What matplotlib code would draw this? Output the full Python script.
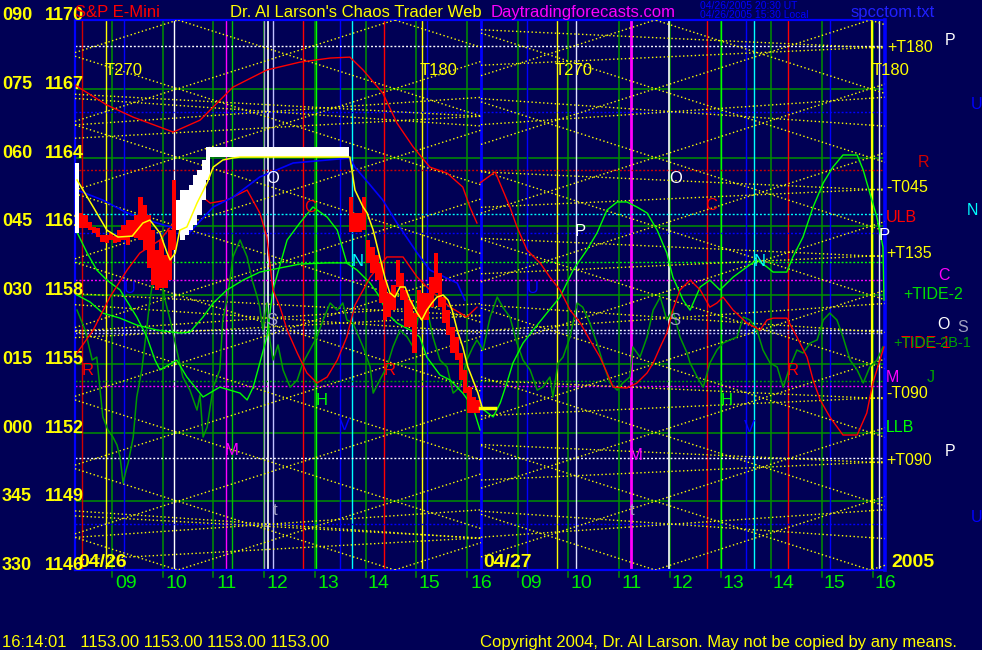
import numpy as np
import matplotlib
matplotlib.use("Agg")
import matplotlib.pyplot as plt

plt.rcParams['font.family'] = ['Liberation Sans', 'DejaVu Sans']

NAVY = '#000055'
YEL = '#ffff00'

# x axis is session hours: 0 = left edge of 04/26, 8 = start of 04/27, 16 = right edge
hour_labels = ['09', '10', '11', '12', '13', '14', '15', '16'] * 2
hour_pos = [1, 2, 3, 4, 5, 6, 7, 8.02, 9, 10, 11, 12, 13, 14, 15, 16]
grid_hours = [0.73 + 1.002 * k for k in range(16)]

angle_labels = ['090', '075', '060', '045', '030', '015', '000', '345', '330']
price_levels = [1170, 1167, 1164, 1161, 1158, 1155, 1152, 1149, 1146]

# vertical event lines (hours) and their colours
vline_t = [0.14, 0.61, 0.97, 1.96, 2.98, 3.10, 3.73, 3.81, 3.91, 4.50, 4.76,
           5.23, 5.47, 6.10, 6.85, 6.95, 8.02, 8.93, 9.52, 9.90, 10.98,
           11.73, 12.48, 12.76, 13.25, 13.41, 14.08, 14.91, 15.74, 15.88]
vline_c = ['#d00000', YEL, '#0000ff', '#ffffff', '#ff00ff', '#00c000', '#a0a0c0',
           '#ffffff', '#c0c0ff', '#ff0000', '#00ff00', '#0000ff', '#00ffff',
           '#ff0000', YEL, '#0000ff', '#0000ff', '#0000ff', YEL, '#e0e0ff',
           '#ff00ff', '#ffffff', '#ff0000', '#00ff00', '#0000ff', '#00ffff',
           '#ff0000', '#0000ff', YEL, '#e0e0ff']
vline_w = [1, 1, 1, 1, 1, 1, 1, 1.2, 1, 1, 1, 1, 1, 1, 1, 1, 2, 1, 1, 1, 2,
           1.2, 1, 1, 1, 1, 1, 1, 1.6, 1]

# dotted horizontal levels
hline_p = [1168.86, 1166.0, 1163.45, 1161.53, 1160.70, 1159.45, 1158.65,
           1156.47, 1156.34, 1154.25, 1154.03, 1150.89, 1148.0]
hline_c = ['#ffffff', '#0000ff', '#d00000', '#00ffff', '#0000ff', '#00ff00',
           '#ff00ff', '#ffffff', '#c0c0ff', '#00a000', '#ff00ff', '#ffffff',
           '#0000ff']

# 5 minute price bars for 04/26
bar_hi = ([1163.76,
           1161.58, 1161.49, 1161.18, 1160.97, 1160.92, 1160.62, 1160.62,
           1160.70, 1160.57, 1160.83, 1161.05, 1161.27, 1161.27, 1161.49,
           1162.27, 1161.93, 1161.49, 1160.83, 1159.96, 1160.40, 1159.74,
           1160.83, 1163.02,
           1162.14, 1162.58, 1162.58, 1162.80, 1163.23, 1163.45, 1163.89,
           1164.46] + [1164.46] * 33 +
          [1162.27, 1161.58, 1161.58, 1162.27, 1160.40, 1160.09, 1159.74,
           1159.39, 1158.65, 1158.09, 1158.43, 1159.53, 1158.96, 1158.22,
           1157.78, 1157.21, 1158.22, 1158.09, 1158.09, 1158.78, 1159.83,
           1158.96, 1157.91, 1157.34, 1156.60, 1156.17, 1155.47, 1154.73,
           1153.98, 1153.55, 1153.42])
bar_lo = ([1160.70,
           1160.92, 1160.92, 1160.83, 1160.70, 1160.53, 1160.31, 1160.27,
           1160.40, 1160.27, 1160.31, 1160.40, 1160.18, 1160.53, 1160.49,
           1160.40, 1159.96, 1159.18, 1158.43, 1158.22, 1158.30, 1158.30,
           1158.65, 1159.96,
           1160.83, 1160.40, 1160.62, 1160.83, 1161.05, 1161.49, 1162.14,
           1163.02] + [1164.02] * 33 +
          [1160.75, 1160.75, 1160.75, 1160.83, 1159.39, 1158.96, 1158.65,
           1157.65, 1156.91, 1157.04, 1157.34, 1158.35, 1157.78, 1156.60,
           1156.60, 1155.47, 1157.04, 1156.91, 1156.91, 1157.47, 1158.09,
           1157.47, 1156.78, 1156.25, 1155.47, 1155.16, 1154.29, 1153.72,
           1152.85, 1152.85, 1152.85])
bar_dir = 'w' + 'r' * 23 + 'w' * 41 + 'r' * 31

# yellow average of price
ma_t = [0.04, 0.36, 0.63, 0.85, 1.13, 1.34, 1.48, 1.68, 1.82, 1.88, 1.98, 2.07,
        2.21, 2.41, 2.61, 2.73, 2.92, 3.12, 3.26, 5.43, 5.53, 5.69, 5.77, 5.89,
        6.02, 6.12, 6.22, 6.32, 6.42, 6.52, 6.62, 6.76, 6.85, 6.95, 7.05, 7.15,
        7.27, 7.37, 7.45, 7.55, 7.66, 7.76, 7.86, 7.96, 8.04]
ma_p = [1163.02, 1161.84, 1160.83, 1160.53, 1160.57, 1161.14, 1161.27, 1160.70,
        1159.83, 1159.53, 1159.83, 1160.83, 1160.97, 1162.01, 1162.89, 1163.58,
        1163.89, 1163.98, 1164.02, 1164.02, 1162.58, 1161.84, 1161.58, 1160.83,
        1159.66, 1158.78, 1158.09, 1157.91, 1158.35, 1158.35, 1157.78, 1157.21,
        1156.91, 1157.34, 1157.65, 1157.91, 1158.00, 1157.78, 1157.34, 1156.47,
        1155.73, 1154.86, 1154.29, 1153.72, 1153.11]
last_t = [8.0, 8.30]
last_p = [1153.07, 1153.07]

blue_t = [0.04, 0.55, 1.03, 1.42, 1.88, 2.27, 2.73, 3.12, 3.65, 4.31, 4.98,
          5.43, 5.53, 5.83, 6.08, 6.36, 6.76, 7.01, 7.55, 7.70]
blue_p = [1162.58, 1162.14, 1161.58, 1161.27, 1160.97, 1160.75, 1161.84,
          1162.27, 1163.15, 1163.76, 1163.89, 1163.98, 1163.58, 1162.80,
          1162.14, 1161.14, 1159.83, 1159.09, 1158.52, 1157.78]

red1_t = [0, 0.63, 1.15, 1.94, 2.47, 3.12, 3.79, 4.44, 5.04, 5.43, 5.69, 6.08,
          6.36, 6.68, 7.01, 7.35, 7.66, 7.80, 7.94]
red1_p = [1167.16, 1166.29, 1165.76, 1165.11, 1165.63, 1167.07, 1167.82,
          1168.16, 1168.34, 1168.38, 1167.82, 1166.81, 1165.50, 1164.46,
          1163.58, 1163.32, 1162.71, 1161.84, 1161.14]

red2_t = [0.04, 0.36, 0.69, 1.03, 1.28, 1.68, 2.07, 2.47, 2.67, 3.00, 3.40,
          3.65, 3.79, 3.91, 4.05, 4.19, 4.39, 4.58, 4.78, 4.98, 5.18, 5.37,
          5.53, 5.83, 6.16, 6.48, 6.76, 7.01, 7.41, 7.74, 7.94]
red2_p = [1155.47, 1156.47, 1157.91, 1159.09, 1159.83, 1160.40, 1161.49,
          1162.36, 1162.01, 1162.14, 1162.58, 1161.58, 1160.53, 1158.22,
          1157.47, 1156.47, 1155.47, 1154.60, 1154.16, 1154.42, 1155.16,
          1156.17, 1157.56, 1158.78, 1159.66, 1159.66, 1158.78, 1158.22,
          1157.47, 1157.04, 1157.47]

red3_t = [8.00, 8.30, 8.45, 8.59, 8.73, 8.93, 9.19, 9.38, 9.58, 9.78, 9.98,
          10.17, 10.37, 10.51, 10.63, 10.90, 11.10, 11.30, 11.42, 11.56, 11.69,
          11.81, 11.95, 12.15, 12.35, 12.54, 12.68, 12.80, 13.00, 13.27, 13.53,
          13.67, 13.79, 14.06, 14.26, 14.46, 14.58, 14.72, 14.91, 15.17, 15.45,
          15.64, 15.76, 15.90, 15.98]
red3_p = [1162.89, 1163.37, 1162.58, 1161.84, 1160.97, 1159.96, 1159.39,
          1158.78, 1158.22, 1157.34, 1156.78, 1156.04, 1155.29, 1154.60,
          1153.98, 1153.94, 1154.16, 1154.60, 1155.03, 1155.73, 1156.34,
          1157.34, 1158.22, 1158.65, 1158.22, 1157.47, 1157.65, 1157.91,
          1157.34, 1156.78, 1156.47, 1156.91, 1156.99, 1156.99, 1156.17,
          1155.29, 1154.29, 1153.42, 1152.68, 1151.89, 1151.89, 1152.85,
          1154.16, 1155.16, 1155.73]

lime1_t = [0.04, 0.30, 0.55, 0.89, 1.22, 1.62, 2.07, 2.27, 2.53, 2.73, 3.00,
           3.32, 3.65, 4.05, 4.44, 4.98, 5.43]
lime1_p = [1158.00, 1157.69, 1157.21, 1156.99, 1156.69, 1156.47, 1156.34,
           1156.38, 1157.04, 1157.65, 1158.22, 1158.65, 1159.00, 1159.18,
           1159.35, 1159.40, 1159.40]

lime2_t = [0, 0.24, 0.43, 0.63, 0.89, 1.22, 1.42, 1.58, 1.68, 2.01, 2.21, 2.53,
           2.86, 3.26, 3.40, 3.52, 3.65, 3.79, 3.91, 4.19, 4.44, 4.70, 4.98,
           5.18, 5.37, 5.57, 5.83, 6.02, 6.16, 6.36, 6.62, 6.81, 6.95, 7.21,
           7.41, 7.66, 7.86, 8.00]
lime2_p = [1160.92, 1159.83, 1159.09, 1158.65, 1158.22, 1157.04, 1156.17,
           1155.16, 1154.73, 1155.16, 1154.42, 1153.55, 1153.98, 1153.72,
           1153.42, 1153.98, 1155.03, 1156.17, 1158.22, 1160.40, 1161.14,
           1161.84, 1161.40, 1160.83, 1159.39, 1159.09, 1158.52, 1157.91,
           1157.21, 1156.78, 1156.47, 1156.17, 1155.29, 1154.51, 1154.29,
           1153.72, 1153.11, 1152.11]

lime3_t = [8.00, 8.26, 8.40, 8.53, 8.65, 8.85, 9.05, 9.32, 9.58, 9.84, 10.11,
           10.31, 10.51, 10.71, 10.90, 11.10, 11.30, 11.50, 11.69, 11.81, 12.01,
           12.15, 12.35, 12.54, 12.74, 13.00, 13.27, 13.47, 13.67, 13.79, 14.06,
           14.18, 14.38, 14.58, 14.78, 14.97, 15.17, 15.45, 15.57, 15.70, 15.84,
           15.96, 15.98]
lime3_p = [1153.11, 1152.68, 1153.29, 1154.16, 1155.03, 1155.90, 1156.47,
           1157.21, 1157.91, 1159.09, 1159.96, 1160.70, 1161.71, 1162.06,
           1162.06, 1161.84, 1161.58, 1160.83, 1159.83, 1158.78, 1157.78,
           1157.34, 1158.35, 1158.65, 1158.22, 1158.78, 1159.22, 1159.53,
           1159.22, 1159.00, 1159.00, 1159.66, 1160.53, 1161.84, 1162.89,
           1163.58, 1164.11, 1164.11, 1163.45, 1162.45, 1161.40, 1160.09,
           1157.78]

# dark green oscillator, both days
osc_t = [0.04, 0.20, 0.34, 0.43, 0.55, 0.65, 0.75, 0.83, 0.89, 0.95, 1.01,
         1.05, 1.15, 1.22, 1.32, 1.42, 1.48, 1.52, 1.58, 1.62, 1.68, 1.78,
         1.88, 2.01, 2.13, 2.27, 2.41, 2.47, 2.53, 2.61, 2.73, 2.86, 2.92,
         3.00, 3.06, 3.12, 3.26, 3.40, 3.50, 3.60, 3.65, 3.71, 3.79, 3.85,
         3.91, 4.01, 4.11, 4.25, 4.39, 4.50, 4.64, 4.78, 4.90, 5.04, 5.18,
         5.29, 5.37, 5.49, 5.69, 5.83, 5.89, 6.02, 6.16, 6.28, 6.42, 6.56,
         6.68, 6.81, 6.95, 7.07, 7.21, 7.35, 7.47, 7.60, 7.74, 7.86, 7.94,
         8.06, 8.20, 8.34, 8.45, 8.59, 8.73, 8.85, 8.99, 9.13, 9.24, 9.38,
         9.44, 9.54, 9.64, 9.78, 9.92, 10.03, 10.17, 10.31, 10.43, 10.57,
         10.71, 10.82, 10.96, 11.02, 11.16, 11.30, 11.42, 11.56, 11.69, 11.81,
         11.95, 12.09, 12.15, 12.29, 12.41, 12.54, 12.68, 12.80, 12.94, 13.08,
         13.20, 13.33, 13.47, 13.59, 13.73, 13.87, 13.99, 14.12, 14.26, 14.38,
         14.52, 14.66, 14.78, 14.91, 15.05, 15.17, 15.31, 15.45, 15.57, 15.70,
         15.84, 15.96]
osc_p = [1157.34, 1156.47, 1155.16, 1155.29, 1152.68, 1152.11, 1151.80,
         1151.45, 1150.93, 1149.80, 1150.36, 1150.67, 1151.80, 1153.55,
         1154.73, 1156.60, 1157.78, 1158.35, 1158.65, 1159.66, 1159.09,
         1157.78, 1156.91, 1155.60, 1154.42, 1153.85, 1152.98, 1153.64,
         1151.80, 1152.24, 1153.98, 1154.73, 1156.91, 1157.78, 1158.65,
         1159.66, 1160.40, 1159.66, 1158.65, 1157.91, 1157.47, 1156.47,
         1157.65, 1156.04, 1155.16, 1155.82, 1154.73, 1153.98, 1154.29,
         1155.03, 1155.60, 1156.17, 1156.91, 1157.65, 1157.34, 1157.65,
         1156.91, 1156.78, 1155.73, 1154.86, 1153.72, 1154.29, 1154.86,
         1155.73, 1156.47, 1156.17, 1155.73, 1157.47, 1157.47, 1156.17,
         1155.16, 1154.86, 1153.72, 1153.98, 1155.16, 1155.73, 1156.04,
         1155.60, 1157.04, 1157.91, 1157.47, 1157.04, 1155.90, 1155.16,
         1154.73, 1153.85, 1153.98, 1154.42, 1153.55, 1155.03, 1155.29,
         1156.17, 1157.65, 1157.47, 1156.78, 1155.90, 1155.03, 1154.16,
         1153.85, 1154.16, 1154.42, 1155.73, 1155.29, 1156.17, 1157.34,
         1157.91, 1156.91, 1157.34, 1156.17, 1155.47, 1155.03, 1154.42,
         1153.98, 1155.03, 1155.60, 1155.90, 1156.04, 1156.17, 1157.04,
         1156.91, 1156.47, 1155.60, 1155.03, 1154.86, 1153.98, 1154.86,
         1155.60, 1155.47, 1155.90, 1156.04, 1156.91, 1157.21, 1156.91,
         1156.17, 1155.16, 1154.73, 1154.16, 1154.86, 1155.16, 1155.73]

# time/price lattice per day: start, end, vertex hour, slope (points per hour)
lattice = [(0.0, 8.02, 2.03, 0.70), (8.02, 16.0, 11.46, 0.706)]
# shallow line pairs: start, end, vertex hour, slope, vertex prices
shallow = [(0.0, 8.02, 3.85, 0.15, [1148.0, 1157.0, 1166.0]),
           (0.0, 8.02, 8.0, 0.12, [1147.4, 1157.1, 1165.8]),
           (8.02, 16.0, 11.8, 0.15, [1148.0, 1157.0, 1166.0]),
           (8.02, 16.0, 15.75, 0.10, [1150.7, 1153.5, 1159.7, 1162.6, 1168.8])]

# letter markers inside the chart
mark_txt = ['O', 'O', 'P', 'P', 'N', 'N', 'U', 'U', 'S', 'S', 'H', 'H', 'M',
            'M', 't', 't', 'V', 'V', 'C', 'C', 'R', 'R', 'R']
mark_t = [3.91, 11.87, 9.98, 15.98, 5.59, 13.53, 1.09, 9.05, 3.89, 11.85, 4.88,
          12.88, 3.10, 11.08, 3.95, 11.0, 5.33, 13.33, 12.56, 4.64, 0.24,
          6.22, 14.18]
mark_p = [1163.1, 1163.1, 1160.75, 1160.6, 1159.44, 1159.44, 1158.3, 1158.3,
          1156.9, 1156.9, 1153.4, 1153.4, 1151.2, 1151.0, 1148.6, 1148.6,
          1152.3, 1152.2, 1161.9, 1161.84, 1154.7, 1154.7, 1154.7]
mark_c = ['#ffffff', '#ffffff', '#ffffff', '#ffffff', '#00ffff', '#00ffff',
          '#0000ff', '#0000ff', '#a0a0c0', '#a0a0c0', '#00ff00', '#00ff00',
          '#ff00ff', '#ff00ff', '#a0a0c0', '#a0a0c0', '#0000ff', '#0000ff',
          '#ff0000', '#ff0000', '#ff0000', '#ff0000', '#ff0000']

# labels right of the chart
side_txt = ['+T180', 'P', 'U', 'R', '-T045', 'N', 'ULB', '+T135', 'C',
            '+TIDE-2', 'O', 'S', 'TIDE-1', '+TIDE-2B-1', 'M', 'J', '-T090',
            'LLB', '+T090', 'P', 'U']
side_t = [16.04, 17.19, 17.70, 16.65, 16.02, 17.62, 16.02, 16.02, 17.05,
          16.36, 17.03, 17.42, 16.30, 16.16, 16.02, 16.83, 16.02, 16.02,
          16.02, 17.19, 17.70]
side_p = [1168.8, 1169.1, 1166.3, 1163.8, 1162.7, 1161.7, 1161.4, 1159.8,
          1158.87, 1158.04, 1156.7, 1156.6, 1155.9, 1155.9, 1154.4, 1154.4,
          1153.7, 1152.2, 1150.8, 1151.15, 1148.3]
side_c = [YEL, '#ffffff', '#0000ff', '#d00000', YEL, '#00ffff', '#ff0000', YEL,
          '#ff00ff', '#00e000', '#ffffff', '#a0a0c0', '#ff0000', '#00a000',
          '#ff00ff', '#00a000', YEL, '#00ff00', YEL, '#ffffff', '#0000ff']
side_fs = [11.5] * 13 + [10.5] + [11.5] * 7

day_t = [0.07, 8.06]
day_txt = ['04/26', '04/27']
cycle_txt = ['T270', 'T180', 'T270', 'T180']
cycle_t = [0.59, 6.81, 9.48, 15.74]

fig = plt.figure(figsize=(9.82, 6.5), dpi=100, facecolor=NAVY)
ax = fig.add_axes([75 / 982, 80 / 650, 810 / 982, 550 / 650])
ax.set_facecolor(NAVY)
ax.set_xlim(0, 16)
ax.set_ylim(1146, 1170)
ax.set_xticks([])
ax.set_yticks([])
for side in ['left', 'bottom', 'top']:
    ax.spines[side].set_color('#0000ff')
    ax.spines[side].set_linewidth(1.6)
ax.spines['right'].set_color('#0000ff')
ax.spines['right'].set_linewidth(2.6)

# grid
for p in price_levels[1:-1]:
    ax.axhline(p, color='#009000', lw=1.1, zorder=1)
for t in grid_hours:
    ax.axvline(t, color='#009000', lw=1.1, zorder=1)
    ax.plot([t, t], [0, -0.012], color='#009000', lw=1.1,
            transform=ax.get_xaxis_transform(), clip_on=False)
for t, c, w in zip(vline_t, vline_c, vline_w):
    ax.axvline(t, color=c, lw=w, zorder=2)
for p, c in zip(hline_p, hline_c):
    ax.axhline(p, color=c, lw=1.0, ls=(0, (1.4, 1.4)), zorder=2)

# lattice
for t0, t1, tv, s in lattice:
    ts = np.array([t0, t1])
    for base in np.arange(1128, 1190, 3):
        for sgn in (1, -1):
            ax.plot(ts, base + sgn * s * (ts - tv), color=YEL, lw=1.0,
                    ls=(0, (1, 1.8)), zorder=3)
for t0, t1, tv, s, levels in shallow:
    ts = np.array([t0, t1])
    for base in levels:
        for sgn in (1, -1):
            ax.plot(ts, base + sgn * s * (ts - tv), color=YEL, lw=1.0,
                    ls=(0, (1, 1.8)), zorder=3)

# curves
ax.plot(osc_t, osc_p, color='#009a00', lw=1.1, zorder=4)
ax.plot(lime1_t, lime1_p, color='#00ff00', lw=1.0, zorder=4)
ax.plot(lime2_t, lime2_p, color='#00ff00', lw=1.0, zorder=4)
ax.plot(lime3_t, lime3_p, color='#00ff00', lw=1.0, zorder=4)
ax.plot(red1_t, red1_p, color='#ff0000', lw=1.0, zorder=4)
ax.plot(red2_t, red2_p, color='#ff0000', lw=1.0, zorder=4)
ax.plot(red3_t, red3_p, color='#ff0000', lw=1.0, zorder=4)
ax.plot(blue_t, blue_p, color='#0000ff', lw=1.2, zorder=4)

# price bars
bar_t = (np.arange(len(bar_hi)) + 0.5) * 5 / 60
bar_col = ['#ffffff' if d == 'w' else '#ff0000' for d in bar_dir]
ax.bar(bar_t, np.array(bar_hi) - np.array(bar_lo), bottom=bar_lo,
       width=5 / 60, color=bar_col, linewidth=0, zorder=5)
ax.plot(ma_t, ma_p, color=YEL, lw=1.1, zorder=6)
ax.plot(last_t, last_p, color=YEL, lw=2.5, zorder=6)

# texts inside the chart
for txt, t, p, c in zip(mark_txt, mark_t, mark_p, mark_c):
    ax.text(t, p, txt, color=c, fontsize=12, ha='center', va='center', zorder=7)
for txt, t in zip(cycle_txt, cycle_t):
    ax.text(t, 1167.8, txt, color=YEL, fontsize=12, ha='left', va='center', zorder=7)
for txt, t in zip(day_txt, day_t):
    ax.text(t, 1146.15, txt, color=YEL, fontsize=14, fontweight='bold',
            ha='left', va='baseline', zorder=7)
for txt, t, p, c, fs in zip(side_txt, side_t, side_p, side_c, side_fs):
    ax.text(t, p, txt, color=c, fontsize=fs, ha='left', va='center',
            clip_on=False)
ax.text(16.12, 1146.15, '2005', color=YEL, fontsize=14, fontweight='bold',
        ha='left', va='baseline', clip_on=False)

# axis labels
for a, p in zip(angle_labels, price_levels):
    ax.text(-73 / 50.625, p, a, color=YEL, fontsize=13, fontweight='bold',
            ha='left', va='baseline', clip_on=False)
    ax.text(-30 / 50.625, p, str(p), color=YEL, fontsize=13, fontweight='bold',
            ha='left', va='baseline', clip_on=False)
for txt, t in zip(hour_labels, hour_pos):
    ax.text(t, -0.033, txt, color='#00f000', fontsize=14, ha='center',
            va='baseline', transform=ax.get_xaxis_transform(), clip_on=False)

# header and footer
fig.text(75 / 982, 1 - 17 / 650, 'S&P E-Mini', color='#ff0000', fontsize=12,
         va='baseline')
fig.text(230 / 982, 1 - 17 / 650, "Dr. Al Larson's Chaos Trader Web",
         color=YEL, fontsize=12, va='baseline')
fig.text(491 / 982, 1 - 17 / 650, 'Daytradingforecasts.com', color='#ff00ff',
         fontsize=12, va='baseline')
fig.text(700 / 982, 1 - 9 / 650, '04/26/2005 20:30 UT', color='#0000ff',
         fontsize=7.5, va='baseline')
fig.text(700 / 982, 1 - 18 / 650, '04/26/2005 15:30 Local', color='#0000ff',
         fontsize=7.5, va='baseline')
fig.text(851 / 982, 1 - 17 / 650, 'spcctom.txt', color='#2020ff', fontsize=12,
         va='baseline')
fig.text(2 / 982, 1 - 647 / 650, '16:14:01   1153.00 1153.00 1153.00 1153.00',
         color=YEL, fontsize=12, va='baseline')
fig.text(480 / 982, 1 - 647 / 650,
         'Copyright 2004, Dr. Al Larson. May not be copied by any means.',
         color=YEL, fontsize=12, va='baseline')

fig.savefig('out.png', dpi=100, facecolor=NAVY)
